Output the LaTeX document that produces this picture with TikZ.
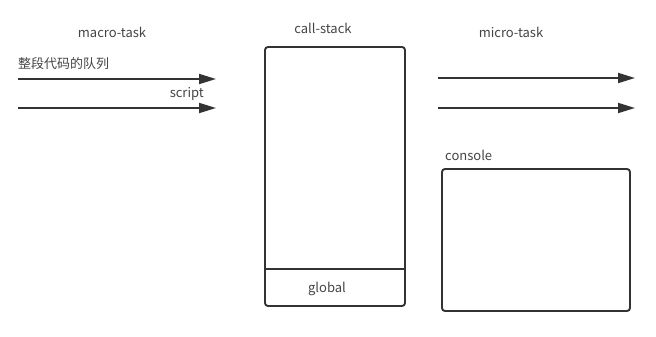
\documentclass[tikz,border=0pt]{standalone}
\usepackage{fontspec}
\setmainfont{Noto Sans CJK SC}
\usetikzlibrary{arrows.meta, positioning}
\definecolor{inkgray}{RGB}{51, 51, 51}
\definecolor{txtgray}{RGB}{68, 68, 68}

\begin{document}
\begin{tikzpicture}[
  x=1pt, y=-1pt,
  lbl/.style={text=txtgray, inner sep=0pt, font=\fontsize{13}{15}\selectfont},
  box/.style={draw=inkgray, line width=1.9pt, rounded corners=3pt},
  arr/.style={-{Triangle[length=17pt, width=10pt]}, line width=1.9pt, color=inkgray}
]
\useasboundingbox (0,0) rectangle (656,337);

% titles
\node[lbl] (macro) at (112,32) {macro-task};
\node[lbl] (callst) at (323,28) {call-stack};
\node[lbl] (micro) at (511,32) {micro-task};

% macro-task queues
\coordinate (q1s) at (18,79);
\coordinate (q1e) at (216,79);
\coordinate (q2s) at (18,108);
\coordinate (q2e) at (216,108);
\node[lbl, anchor=west] (whole) at (18,64) {整段代码的队列};
\node[lbl, anchor=east] (script) at (204,94) {script};
\draw[arr] (q1s) -- (q1e);
\draw[arr] (q2s) -- (q2e);

% call stack
\node[box, minimum width=140pt, minimum height=259pt] (stack) at (335,176.5) {};
\node[minimum width=140pt, minimum height=38pt, inner sep=0pt, anchor=south] (gbl) at (stack.south) {};
\node[lbl] (gtext) at (327,289) {global};
\draw[draw=inkgray, line width=1.9pt] (gbl.north west) -- (gbl.north east);

% micro-task queues
\coordinate (m1s) at (438,78);
\coordinate (m1e) at (635,78);
\coordinate (m2s) at (438,108);
\coordinate (m2e) at (635,108);
\draw[arr] (m1s) -- (m1e);
\draw[arr] (m2s) -- (m2e);

% console
\node[lbl, anchor=west] (cons) at (445,155) {console};
\node[box, minimum width=188pt, minimum height=142pt] (conbox) at (536,240) {};
\end{tikzpicture}
\end{document}
